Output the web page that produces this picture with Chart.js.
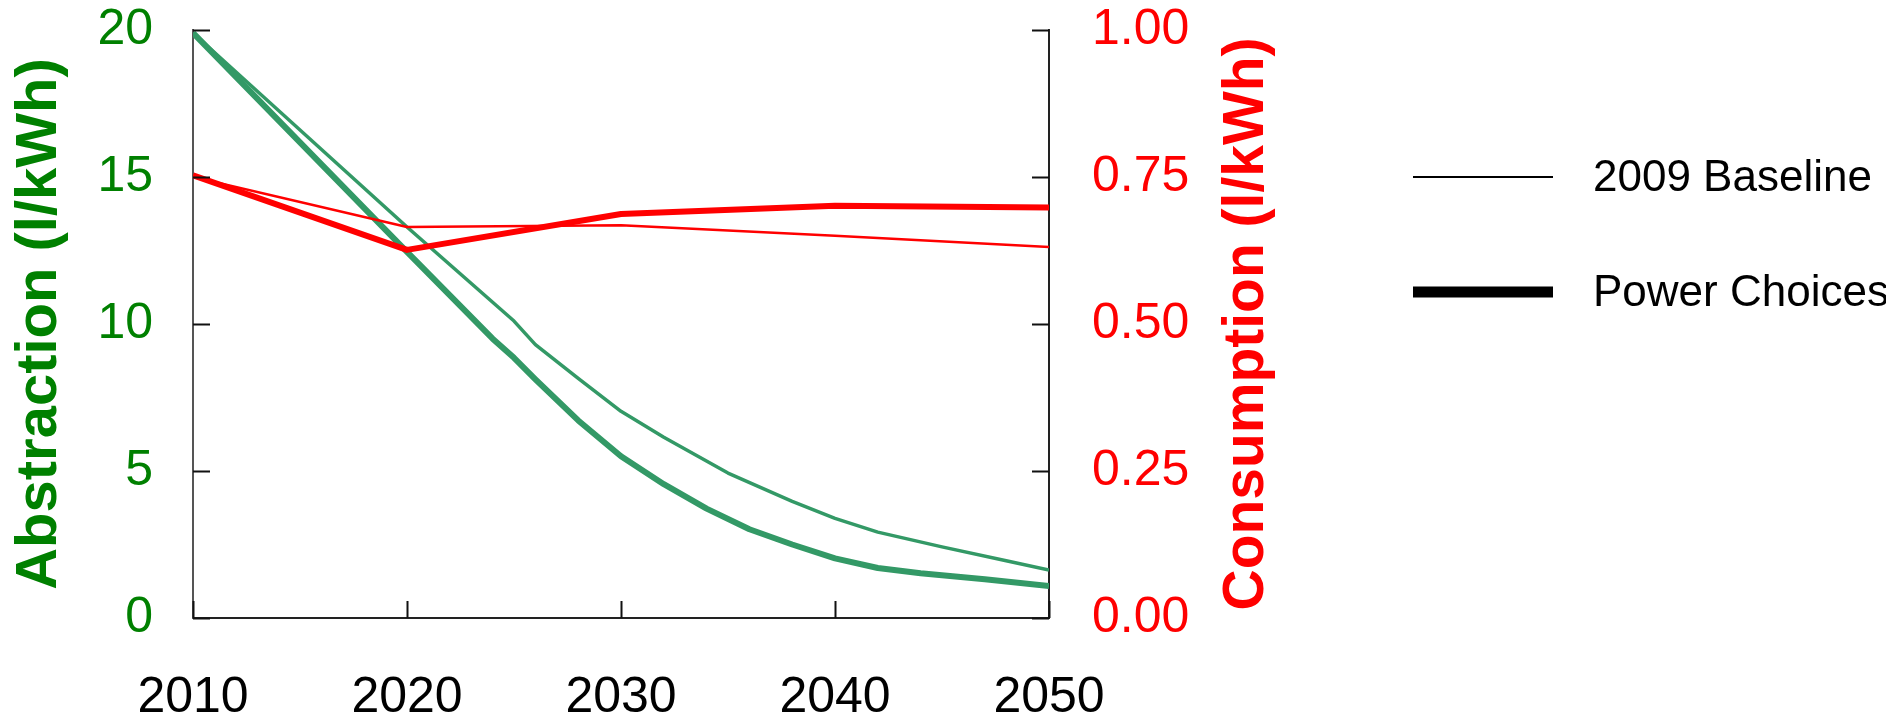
<!DOCTYPE html>
<html><head><meta charset="utf-8">
<script src="https://cdn.jsdelivr.net/npm/chart.js@4.4.1/dist/chart.umd.min.js"></script>
<style>html,body{margin:0;padding:0;background:#fff;} #wrap{width:1886px;height:718px;}</style>
</head><body><div id="wrap"><canvas id="c" width="1886" height="718"></canvas></div>
<script>
// ---- data ----
const xTickLabels = ['2010', '2020', '2030', '2040', '2050'];
const leftTickLabels = ['0', '5', '10', '15', '20'];
const rightTickLabels = ['0.00', '0.25', '0.50', '0.75', '1.00'];
const seriesNames = ['2009 Baseline', 'Power Choices'];
const axisTitles = ['Abstraction (l/kWh)', 'Consumption (l/kWh)'];

const baselineAbstractionYears = [2010, 2020, 2025, 2026, 2028, 2030, 2032, 2035, 2038, 2040, 2042, 2045, 2048, 2050];
const baselineAbstraction      = [19.9, 13.3, 10.1, 9.3, 8.15, 7.03, 6.15, 4.93, 3.97, 3.39, 2.92, 2.42, 1.95, 1.63];
const powerAbstractionYears = [2010, 2020, 2024, 2025, 2026, 2028, 2030, 2032, 2034, 2036, 2038, 2040, 2042, 2044, 2047, 2050];
const powerAbstraction      = [19.9, 12.45, 9.5, 8.85, 8.12, 6.72, 5.5, 4.55, 3.72, 3.02, 2.5, 2.03, 1.7, 1.52, 1.32, 1.09];
const consumptionYears     = [2010, 2020, 2030, 2040, 2050];
const baselineConsumption  = [0.75, 0.665, 0.668, 0.65, 0.631];
const powerConsumption     = [0.753, 0.626, 0.687, 0.701, 0.698];

const pts = (xs, ys) => xs.map((x, i) => ({x: x, y: ys[i]}));

const FONT = '"Liberation Sans", Arial, Helvetica, sans-serif';
const GREEN_TXT = '#008000';
const RED = '#ff0000';
const GREEN_LINE = '#339966';

const decor = {
  id: 'decor',
  afterDraw(chart) {
    const ctx = chart.ctx, ca = chart.chartArea;
    const xs = chart.scales.x, yl = chart.scales.yL, yr = chart.scales.yR;
    ctx.save();
    // inward tick marks
    ctx.strokeStyle = '#111';
    ctx.lineWidth = 2;
    const TL = 17;
    ctx.beginPath();
    yl.ticks.forEach(t => { const y = Math.round(yl.getPixelForValue(t.value)) + 0.5; ctx.moveTo(ca.left, y); ctx.lineTo(ca.left + TL, y); });
    yr.ticks.forEach(t => { const y = Math.round(yr.getPixelForValue(t.value)) + 0.5; ctx.moveTo(ca.right, y); ctx.lineTo(ca.right - TL, y); });
    xs.ticks.forEach(t => { const x = Math.round(xs.getPixelForValue(t.value)) + 0.5; ctx.moveTo(x, ca.bottom); ctx.lineTo(x, ca.bottom - TL); });
    ctx.stroke();

    // axis titles (both read bottom-to-top)
    ctx.textAlign = 'center';
    ctx.textBaseline = 'middle';
    ctx.font = 'bold 58px ' + FONT;
    ctx.fillStyle = GREEN_TXT;
    ctx.save(); ctx.translate(40, 324); ctx.rotate(-Math.PI / 2); ctx.fillText(axisTitles[0], 0, 0); ctx.restore();
    ctx.font = 'bold 57px ' + FONT;
    ctx.fillStyle = RED;
    ctx.save(); ctx.translate(1247, 324); ctx.rotate(-Math.PI / 2); ctx.fillText(axisTitles[1], 0, 0); ctx.restore();

    // legend
    ctx.strokeStyle = '#000';
    ctx.lineCap = 'butt';
    ctx.lineWidth = 2;
    ctx.beginPath(); ctx.moveTo(1413, 177); ctx.lineTo(1553, 177); ctx.stroke();
    ctx.lineWidth = 11;
    ctx.beginPath(); ctx.moveTo(1413, 292); ctx.lineTo(1553, 292); ctx.stroke();
    ctx.fillStyle = '#000';
    ctx.font = '44px ' + FONT;
    ctx.textAlign = 'left';
    ctx.textBaseline = 'middle';
    ctx.fillText(seriesNames[0], 1593, 179);
    ctx.fillText(seriesNames[1], 1593, 294);
    ctx.restore();
  }
};

function fixV(width) {
  return s => { s.width = width; s.paddingTop = 30; s.paddingBottom = 0; };
}

new Chart(document.getElementById('c'), {
  type: 'line',
  data: {
    datasets: [
      { label: seriesNames[1] + ' consumption', data: pts(consumptionYears, powerConsumption), yAxisID: 'yR', borderColor: RED, borderWidth: 6 },
      { label: seriesNames[0] + ' consumption', data: pts(consumptionYears, baselineConsumption), yAxisID: 'yR', borderColor: RED, borderWidth: 2.5 },
      { label: seriesNames[1] + ' abstraction', data: pts(powerAbstractionYears, powerAbstraction), yAxisID: 'yL', borderColor: GREEN_LINE, borderWidth: 6 },
      { label: seriesNames[0] + ' abstraction', data: pts(baselineAbstractionYears, baselineAbstraction), yAxisID: 'yL', borderColor: GREEN_LINE, borderWidth: 3.5 }
    ]
  },
  options: {
    responsive: false,
    animation: false,
    devicePixelRatio: 1,
    layout: { padding: { top: 30, left: 0, right: 0, bottom: 0 } },
    elements: { point: { radius: 0 }, line: { tension: 0, borderCapStyle: 'butt', borderJoinStyle: 'round' } },
    plugins: { legend: { display: false }, tooltip: { enabled: false }, title: { display: false } },
    scales: {
      x: {
        type: 'linear', min: 2010, max: 2050,
        afterFit: s => { s.height = 100; s.paddingLeft = 0; s.paddingRight = 0; },
        grid: { display: true, drawOnChartArea: false, drawTicks: false },
        border: { display: true, color: '#222', width: 2 },
        ticks: { stepSize: 10, padding: 50, color: '#000', font: { family: FONT, size: 50 }, maxRotation: 0,
                 callback: (v, i) => xTickLabels[i] }
      },
      yL: {
        type: 'linear', position: 'left', min: 0, max: 20,
        afterFit: fixV(193),
        grid: { display: true, drawOnChartArea: false, drawTicks: false },
        border: { display: true, color: '#555', width: 2 },
        ticks: { stepSize: 5, padding: 40, color: GREEN_TXT, font: { family: FONT, size: 50 },
                 callback: (v, i) => leftTickLabels[i] }
      },
      yR: {
        type: 'linear', position: 'right', min: 0, max: 1,
        afterFit: fixV(837),
        grid: { display: true, drawOnChartArea: false, drawTicks: false },
        border: { display: true, color: '#222', width: 2 },
        ticks: { stepSize: 0.25, padding: 43, color: RED, font: { family: FONT, size: 50 },
                 callback: (v, i) => rightTickLabels[i] }
      }
    }
  },
  plugins: [decor]
});
</script>
</body></html>
